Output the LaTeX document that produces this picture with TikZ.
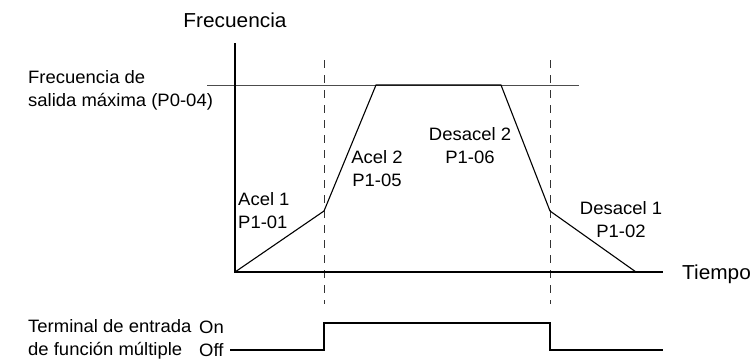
\documentclass[tikz,border=0pt]{standalone}
\usepackage{fontspec}
\setmainfont[FakeStretch=1.03]{Liberation Sans}
\begin{document}
\begin{tikzpicture}[x=1bp,y=-1bp,
  font=\fontsize{18}{23}\selectfont,
  lbl/.style={inner sep=0pt, align=center},
  lbll/.style={inner sep=0pt, align=left},
  axlbl/.style={inner sep=0pt, font=\fontsize{20.3}{24}\selectfont},
  axis/.style={line width=2.6bp},
  curve/.style={line width=1.1bp, line join=miter},
  maxline/.style={line width=0.9bp, black!70},
  guide/.style={line width=0.9bp, black!80, dash pattern=on 8bp off 7bp},
  signal/.style={line width=1.1bp, line join=miter}]
\useasboundingbox (0,0) rectangle (756,360);
% axes
\coordinate (ytop) at (235,43);
\coordinate (orig) at (235,272);
\coordinate (xend) at (663,272);
% curve points
\coordinate (c1) at (324,211);
\coordinate (c2) at (376,85);
\coordinate (c3) at (501,85);
\coordinate (c4) at (550,211);
\coordinate (c5) at (636,272);
% max line
\coordinate (m1) at (207,85);
\coordinate (m2) at (579,85);
% guides
\coordinate (g1t) at (324,60);
\coordinate (g1b) at (324,304);
\coordinate (g2t) at (550,60);
\coordinate (g2b) at (550,304);
% signal
\coordinate (s0) at (230,350);
\coordinate (s1) at (324,350);
\coordinate (s2) at (324,323);
\coordinate (s3) at (550,323);
\coordinate (s4) at (550,350);
\coordinate (s5) at (663,350);

\draw[maxline] (m1) -- (m2);
\draw[guide] (g1t) -- (g1b);
\draw[guide] (g2t) -- (g2b);
\draw[axis] (ytop) -- (orig) -- (xend);
\draw[curve] (orig) -- (c1) -- (c2) -- (c3) -- (c4) -- (c5);
\draw[signal] (s0) -- (s1) -- (s2) -- (s3) -- (s4) -- (s5);

\node[axlbl] (freq) at (235,20) {Frecuencia};
\node[lbll, anchor=west] (fmax) at (28,90) {Frecuencia de\\salida máxima (P0-04)};
\node[lbll, anchor=west] (a1) at (238,211) {Acel 1\\P1-01};
\node[lbl] (a2) at (377,169) {Acel 2\\P1-05};
\node[lbl] (d2) at (470,146) {Desacel 2\\P1-06};
\node[lbl] (d1) at (621,220) {Desacel 1\\P1-02};
\node[axlbl, anchor=west] (tiempo) at (682,274) {Tiempo};
\node[lbll, anchor=west] (term) at (28,339) {Terminal de entrada\\de función múltiple};
\node[lbll, anchor=west] (onoff) at (199,339) {On\\Off};
\end{tikzpicture}
\end{document}
